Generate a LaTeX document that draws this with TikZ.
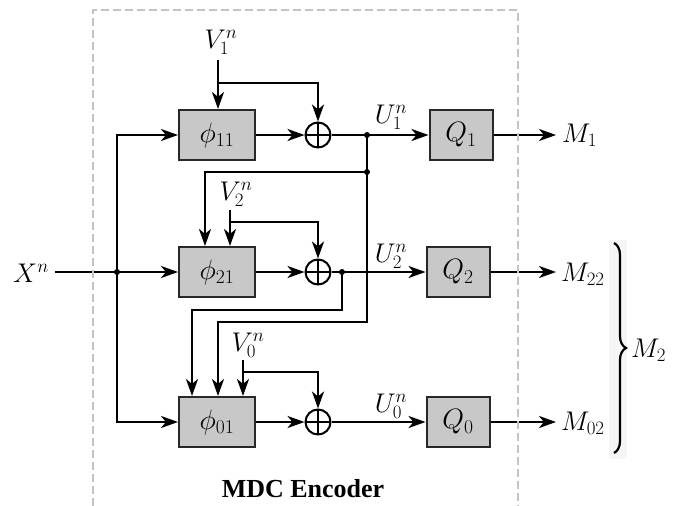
\RequirePackage{fix-cm}
\documentclass[tikz,border=0pt]{standalone}
\usepackage{fontspec}
\newfontfamily\timesfont{Liberation Serif}
\usetikzlibrary{arrows.meta,decorations.pathreplacing,calc}
\definecolor{boxgray}{RGB}{200,200,200}
\definecolor{boxedge}{RGB}{40,40,40}
\definecolor{dashgray}{RGB}{195,195,195}
\definecolor{bracebg}{RGB}{246,246,246}
\begin{document}
\begin{tikzpicture}[x=1pt,y=-1pt,
  lab/.style={font=\fontsize{27}{32}\selectfont, inner sep=0pt, anchor=base},
  fbox/.style={draw=boxedge, fill=boxgray, line width=2pt, minimum width=76pt, minimum height=50pt, inner sep=0pt, font=\fontsize{28}{32}\selectfont},
  qbox/.style={fbox, minimum width=63pt},
  sumnode/.style={circle, draw, line width=2pt, minimum size=25pt, inner sep=0pt,
    path picture={\draw[line width=1.4pt] (path picture bounding box.north) -- (path picture bounding box.south) (path picture bounding box.west) -- (path picture bounding box.east);}},
  wire/.style={line width=2.7pt},
  arr/.style={wire, -{Stealth[length=17pt,width=12pt,inset=5pt]}},
  dot/.style={circle, fill, inner sep=0pt, minimum size=6pt},
]
\useasboundingbox (0,0) rectangle (678,506);

% blocks
\node[fbox] (p11) at (217,135) {$\phi_{11}$};
\node[fbox] (p21) at (217,272) {$\phi_{21}$};
\node[fbox] (p01) at (217,422) {$\phi_{01}$};
\node[sumnode] (s1) at (318,135) {};
\node[sumnode] (s2) at (318,272) {};
\node[sumnode] (s0) at (318,422) {};
\node[qbox] (q1) at (461,135) {$Q_1$};
\node[qbox] (q2) at (458,272) {$Q_2$};
\node[qbox] (q0) at (458,422) {$Q_0$};

% labels
\node[lab] (v1) at (221,48) {$V_1^n$};
\node[lab] (v2) at (236,200) {$V_2^n$};
\node[lab] (v0) at (248,351) {$V_0^n$};
\node[lab] (u1) at (391,123) {$U_1^n$};
\node[lab] (u2) at (391,262) {$U_2^n$};
\node[lab] (u0) at (391,412) {$U_0^n$};
\node[lab, anchor=base east] (xn) at (49,282) {$X^n$};
\node[lab, anchor=base west] (m1) at (562,142) {$M_1$};
\node[lab, anchor=base west] (m22) at (561,281) {$M_{22}$};
\node[lab, anchor=base west] (m02) at (561,430) {$M_{02}$};
\node[lab, anchor=base west] (m2) at (631,357) {$M_2$};
\node[font=\timesfont\bfseries\fontsize{26}{30}\selectfont, inner sep=0pt, anchor=base] (title) at (303,497) {MDC Encoder};

% side inputs
\coordinate (v1s) at (218,60); \coordinate (v1b) at (218,83);
\draw[arr] (v1s) -- (v1s |- p11.north);
\draw[arr] (v1b) -| (s1.north);
\coordinate (v2s) at (230,210); \coordinate (v2b) at (230,222);
\draw[arr] (v2s) -- (v2s |- p21.north);
\draw[arr] (v2b) -| (s2.north);
\coordinate (v0s) at (243,360); \coordinate (v0b) at (243,372);
\draw[arr] (v0s) -- (v0s |- p01.north);
\draw[arr] (v0b) -| (s0.north);

% source
\coordinate (xs) at (55,272);
\node[dot] (dx) at (117,272) {};
\draw[arr] (xs) -- (p21.west);
\draw[arr] (dx.center) |- (p11.west);
\draw[arr] (dx.center) |- (p01.west);

% main paths
\draw[arr] (p11.east) -- (s1.west);
\draw[arr] (p21.east) -- (s2.west);
\draw[arr] (p01.east) -- (s0.west);
\draw[arr] (s1.east) -- (q1.west);
\draw[arr] (s2.east) -- (q2.west);
\draw[arr] (s0.east) -- (q0.west);
\coordinate (m1t) at (556,135);
\coordinate (m22t) at (556,272);
\coordinate (m02t) at (556,422);
\draw[arr] (q1.east) -- (m1t);
\draw[arr] (q2.east) -- (m22t);
\draw[arr] (q0.east) -- (m02t);

% feedback
\node[dot] (f1a) at (367,135) {};
\node[dot] (f1b) at (367,172) {};
\coordinate (f1c) at (367,322); \coordinate (f1d) at (218,322);
\draw[wire] (f1a.center) -- (f1b.center);
\draw[arr] (f1b.center) -| ([xshift=-12pt]p21.north);
\draw[arr] (f1b.center) -- (f1c) -- (f1d) -- (f1d |- p01.north);
\node[dot] (f2a) at (342,272) {};
\coordinate (f2c) at (342,310); \coordinate (f2d) at (192,310);
\draw[arr] (f2a.center) -- (f2c) -- (f2d) -- (f2d |- p01.north);

% brace
\fill[bracebg] (609,240) rectangle (627,459);
\draw[line width=2.2pt, decorate, decoration={brace, amplitude=12pt}] (614,243) -- (614,453);

% encoder frame
\draw[dashgray, line width=1.5pt, dash pattern=on 8pt off 4pt] (93,506) -- (93,10) -- (518,10) -- (518,506);
\end{tikzpicture}
\end{document}
